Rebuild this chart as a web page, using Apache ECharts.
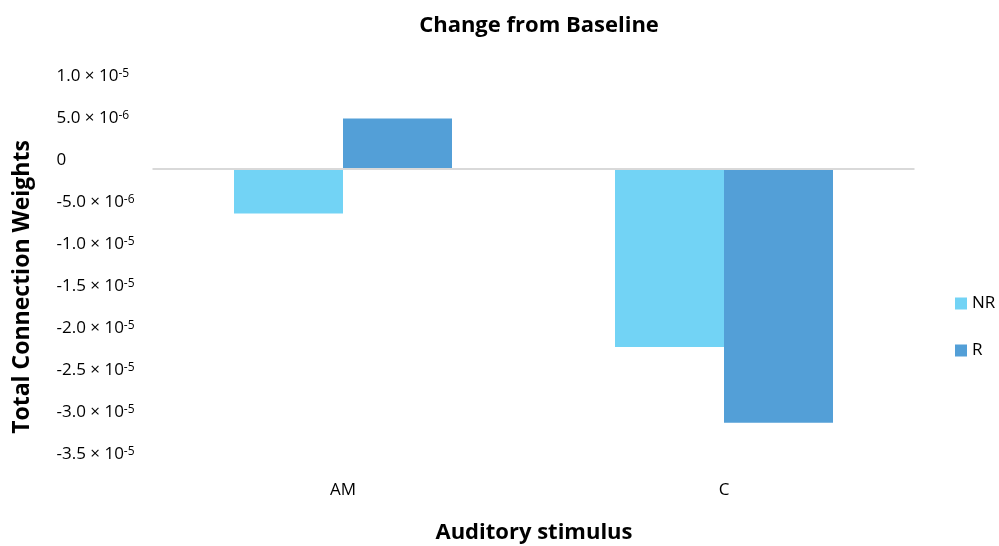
<!DOCTYPE html>
<html>
<head>
<meta charset="utf-8">
<script src="https://cdn.jsdelivr.net/npm/echarts@6/dist/echarts.min.js"></script>
<style>
  html, body { margin: 0; padding: 0; background: #fff; }
  #chart { width: 999px; height: 546px; }
</style>
</head>
<body>
<div id="chart"></div>
<script>
// Auditory stimulus categories and change-from-baseline values per group
const categories = ['AM', 'C'];
const seriesNames = ['NR', 'R'];
const nrValues = [-5.3e-6, -2.12e-5];
const rValues = [6.0e-6, -3.02e-5];
const yMin = -3.5e-5;
const yMax = 1.0e-5;
const yStep = 5e-6;

const FONT = '"Open Sans", Lato, sans-serif';

// Tick labels written as "m × 10^e" with a raised exponent
function sciLabel(v) {
  if (Math.abs(v) < 1e-12) return '{m|0}';
  const parts = v.toExponential(1).split('e');
  return '{m|' + parts[0] + ' × 10}{e|' + parseInt(parts[1], 10) + '}';
}

const chart = echarts.init(document.getElementById('chart'), null, { renderer: 'canvas' });

chart.setOption({
  backgroundColor: '#ffffff',
  animation: false,
  title: {
    text: 'Change from Baseline',
    left: 534,
    top: 10,
    textAlign: 'center',
    textStyle: { fontFamily: FONT, fontWeight: 'bold', fontSize: 22, color: '#000' }
  },
  legend: {
    orient: 'vertical',
    left: 955,
    top: 295,
    padding: 0,
    itemWidth: 12,
    itemHeight: 12,
    itemGap: 30,
    icon: 'rect',
    data: seriesNames,
    textStyle: { fontFamily: FONT, fontSize: 17, color: '#000' }
  },
  grid: {
    left: 152.5,
    right: 84.5,
    top: 85,
    bottom: 83,
    containLabel: false
  },
  xAxis: {
    type: 'category',
    data: categories,
    position: 'bottom',
    axisLine: { show: false, onZero: false },
    axisTick: { show: false },
    axisLabel: {
      margin: 19,
      fontFamily: FONT,
      fontSize: 17,
      color: '#000'
    }
  },
  yAxis: {
    type: 'value',
    min: yMin,
    max: yMax,
    interval: yStep,
    axisLine: { show: false },
    axisTick: { show: false },
    splitLine: { show: false },
    axisLabel: {
      align: 'left',
      margin: 96,
      verticalAlign: 'bottom',
      formatter: sciLabel,
      rich: {
        m: { fontFamily: FONT, fontSize: 17, color: '#000', lineHeight: 17, verticalAlign: 'bottom' },
        e: { fontFamily: FONT, fontSize: 12, color: '#000', lineHeight: 11, verticalAlign: 'top' }
      }
    }
  },
  graphic: [
    {
      type: 'text',
      x: 22,
      y: 287,
      rotation: Math.PI / 2,
      style: {
        text: 'Total Connection Weights',
        fontFamily: FONT,
        fontWeight: 'bold',
        fontSize: 23,
        fill: '#000',
        align: 'center',
        verticalAlign: 'middle'
      }
    },
    {
      type: 'text',
      x: 534,
      y: 533,
      style: {
        text: 'Auditory stimulus',
        fontFamily: FONT,
        fontWeight: 'bold',
        fontSize: 22,
        fill: '#000',
        align: 'center',
        verticalAlign: 'middle'
      }
    }
  ],
  series: [
    {
      name: seriesNames[0],
      type: 'bar',
      data: nrValues,
      barWidth: 109,
      barGap: '0%',
      itemStyle: { color: '#72D3F5' },
      markLine: {
        silent: true,
        symbol: 'none',
        label: { show: false },
        lineStyle: { color: '#d9d9d9', width: 2, type: 'solid' },
        data: [{ yAxis: 0 }]
      }
    },
    {
      name: seriesNames[1],
      type: 'bar',
      data: rValues,
      barWidth: 109,
      barGap: '0%',
      itemStyle: { color: '#539FD7' }
    }
  ]
});
</script>
</body>
</html>
